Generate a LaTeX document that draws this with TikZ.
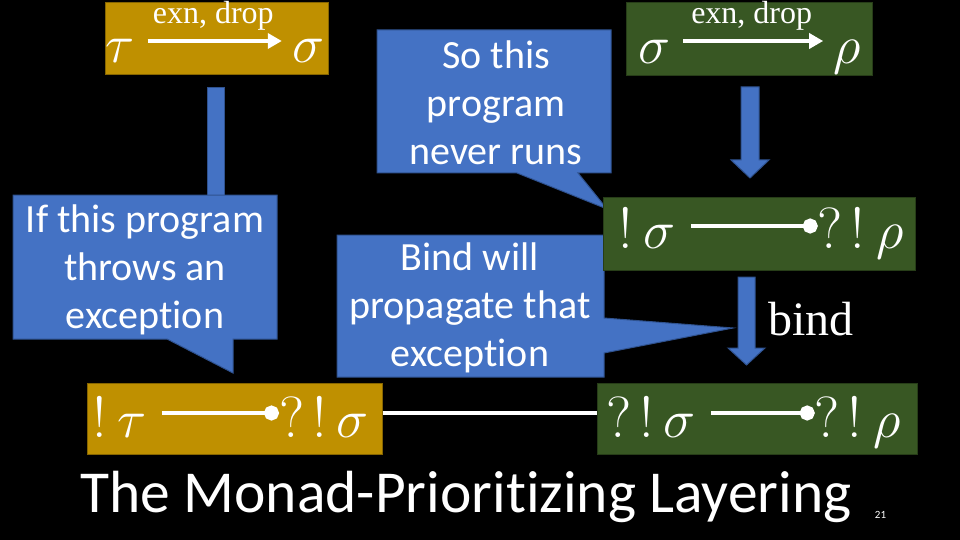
\RequirePackage{fix-cm}
\documentclass[tikz,border=0pt]{standalone}
\usepackage{fontspec}
\newfontfamily\calibri[Ligatures=NoCommon]{Carlito}
\newfontfamily\timesf{Liberation Serif}
\definecolor{PPTGold}{RGB}{191,144,0}
\definecolor{PPTGreen}{RGB}{56,87,35}
\definecolor{PPTBlue}{RGB}{68,114,196}
\definecolor{PPTBlueDark}{RGB}{47,82,143}
\usetikzlibrary{arrows.meta, positioning}
\newcommand\shout[1]{{\fontsize{58}{58}\selectfont #1}}

\begin{document}
\begin{tikzpicture}[x=1pt, y=-1pt,
	goldbox/.style={fill=PPTGold, draw=PPTGold!70!black, line width=1pt},
	greenbox/.style={fill=PPTGreen, draw=PPTGreen!70!black, line width=1pt},
	sym/.style={text=white, font=\fontsize{54}{54}\selectfont, inner sep=0pt},
	lbl/.style={text=white, font=\timesf\fontsize{32}{32}\selectfont, inner sep=0pt},
	say/.style={text=white, font=\calibri\fontsize{40}{48}\selectfont, align=center, inner sep=0pt},
	bubble/.style={fill=PPTBlue, draw=PPTBlueDark, line width=1pt},
	hop/.style={white, line width=4.5pt, -{Triangle[length=14pt, width=15pt]}, shorten <=13pt, shorten >=10pt},
	tie/.style={white, line width=4pt, -{Circle[length=15pt]}, shorten <=15pt},
	heading/.style={text=white, font=\calibri\fontsize{59.5}{60}\selectfont, anchor=base}]
	\useasboundingbox (0,0) rectangle (960,540);
	\fill[black] (0,0) rectangle (960,540);

	\filldraw[bubble] (207,88) rectangle (224,200);
	\filldraw[bubble] (13,195) -- (277,195) -- (277,339) -- (233,339) -- (233,373) -- (167,339) -- (13,339) -- cycle;
	\node[say] (say1) at (145,270) {If this program\\throws an\\exception};
	\filldraw[bubble] (377,30) -- (611,30) -- (611,173) -- (578,173) -- (607,209) -- (517,173) -- (377,173) -- cycle;
	\node[say] (say2) at (496,103) {So this\\program\\never runs};
	\filldraw[bubble] (337,235) -- (604,235) -- (604,318) -- (733,328) -- (604,353) -- (604,377) -- (337,377) -- cycle;
	\node[say] (say3) at (470,308) {Bind will\\propagate that\\exception};

	\node[goldbox, minimum width=223pt, minimum height=72pt] (gtop) at (216.5,39) {};
	\node[sym, anchor=base] (gtau) at (120,63) {$\tau$};
	\node[sym, anchor=base] (gsig) at (308,63) {$\sigma$};
	\draw[hop] ([yshift=22pt]gtau.base east) -- ([yshift=22pt]gsig.base west) node[lbl, midway, above=8pt] {exn, drop};

	\node[greenbox, minimum width=246pt, minimum height=73pt] (rtop) at (749,39.5) {};
	\node[sym, anchor=base] (rsig) at (654,64) {$\sigma$};
	\node[sym, anchor=base] (rrho) at (847,64) {$\rho$};
	\draw[hop] ([yshift=23pt]rsig.base east) -- ([yshift=23pt]rrho.base west) node[lbl, midway, above=8pt] {exn, drop};

	\node[greenbox, minimum width=312pt, minimum height=73pt] (rmid) at (759,233.5) {};
	\node[sym, anchor=base west] (rmidl) at (618,248) {\shout{!}\hspace{11pt}$\sigma$};
	\node[sym, anchor=base east] (rmidr) at (904,248) {\shout{?}\hspace{8pt}\shout{!}\hspace{11pt}$\rho$};
	\draw[tie] ([yshift=22pt]rmidl.base east) -- ([yshift=22pt]rmidr.base west);

	\node[goldbox, minimum width=295pt, minimum height=71pt] (gbot) at (234.5,418.5) {};
	\node[sym, anchor=base west] (gbotl) at (92,437) {\shout{!}\hspace{11pt}$\tau$};
	\node[sym, anchor=base east] (gbotr) at (369,437) {\shout{?}\hspace{8pt}\shout{!}\hspace{10pt}$\sigma$};
	\draw[tie] ([yshift=24pt]gbotl.base east) -- ([yshift=24pt]gbotr.base west);

	\node[greenbox, minimum width=320pt, minimum height=71pt] (rbot) at (757,418.5) {};
	\node[sym, anchor=base west] (rbotl) at (606,437) {\shout{?}\hspace{8pt}\shout{!}\hspace{10pt}$\sigma$};
	\node[sym, anchor=base east] (rbotr) at (901,437) {\shout{?}\hspace{8pt}\shout{!}\hspace{11pt}$\rho$};
	\draw[tie] ([yshift=24pt]rbotl.base east) -- ([yshift=24pt]rbotr.base west);
	\draw[white, line width=4pt] ([yshift=5.5pt]gbot.east) -- ([yshift=5.5pt]rbot.west);

	\filldraw[bubble] (741,87) -- (759,87) -- (759,160) -- (769,160) -- (750,178) -- (731,160) -- (741,160) -- cycle;
	\filldraw[bubble] (738,277) -- (755,277) -- (755,348) -- (765,348) -- (746.5,365) -- (728,348) -- (738,348) -- cycle;
	\node[lbl, font=\timesf\fontsize{48}{48}\selectfont, anchor=base west] (bindtxt) at (768,335) {bind};

	\node[heading] (title) at (466,512) {The Monad-Prioritizing Layering};
	\node[text=white, font=\calibri\fontsize{11}{11}\selectfont, anchor=base, inner sep=0pt] (pgno) at (880.5,518) {21};
\end{tikzpicture}
\end{document}
